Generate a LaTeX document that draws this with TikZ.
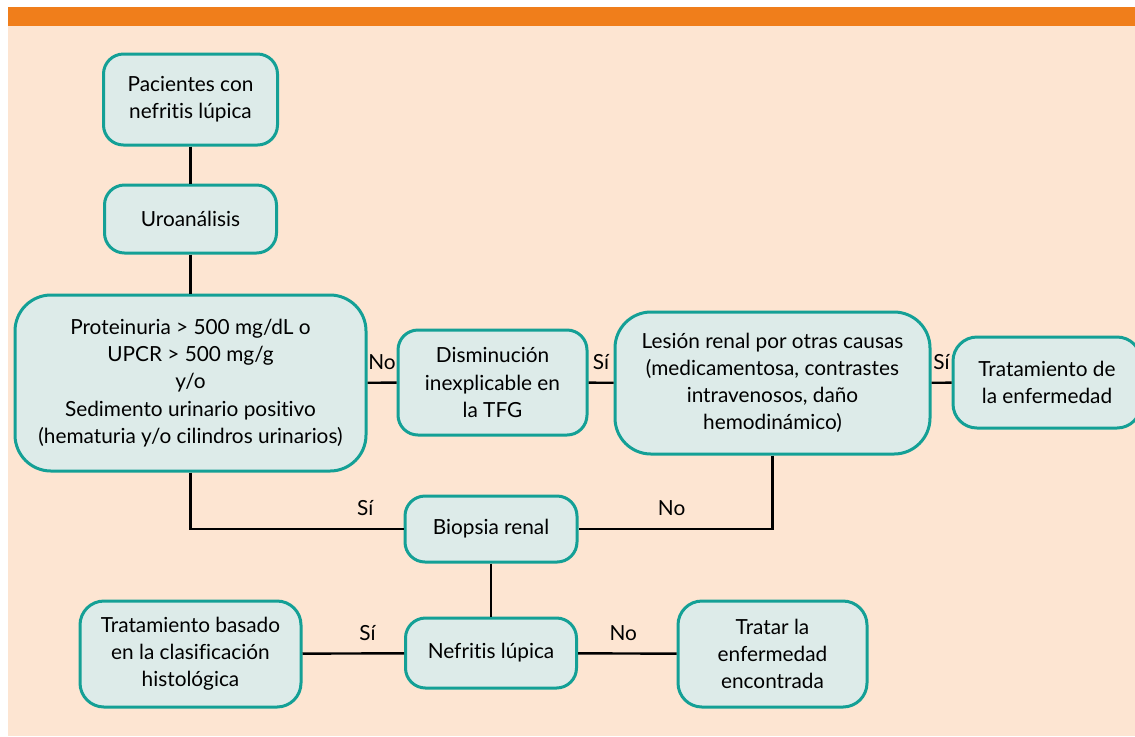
\documentclass[tikz,border=0pt]{standalone}
\usepackage{fontspec}
\setmainfont{Lato}[Ligatures=NoCommon]
\usepackage{tikz}
\definecolor{fondo}{HTML}{FDE5D2}
\definecolor{franja}{HTML}{F07E1B}
\definecolor{relleno}{HTML}{DDEBE9}
\definecolor{borde}{HTML}{14A096}
\tikzset{caja/.style={draw=borde,fill=relleno,line width=1.5pt,rounded corners=10pt,align=center,
    inner sep=0pt,font=\fontsize{10.4}{13.6}\selectfont},
  enlace/.style={line width=1.2pt,black},
  rotulo/.style={font=\fontsize{10.4}{12}\selectfont,inner sep=2pt}}

\begin{document}
\begin{tikzpicture}[x=0.5pt,y=-0.5pt]
			\useasboundingbox (0,0) rectangle (1135,736);
			\fill[fondo] (8,7) rectangle (1135,736);
			\fill[franja] (8,7) rectangle (1135,26);
			\node[caja,minimum width=87pt,minimum height=45.5pt] (pac) at (190.5,99.5) {Pacientes con\\nefritis lúpica};
			\node[caja,minimum width=86pt,minimum height=34pt] (uro) at (190.5,219) {Uroanálisis};
			\node[caja,minimum width=175.5pt,minimum height=88pt,rounded corners=18pt] (prot) at (190.5,383) {Proteinuria > 500 mg/dL o\\UPCR > 500 mg/g\\y/o\\Sedimento urinario positivo\\(hematuria y/o cilindros urinarios)};
			\node[caja,minimum width=94.5pt,minimum height=52.5pt] (dism) at (492.5,382.5) {Disminución\\inexplicable en\\la TFG};
			\node[caja,minimum width=157.5pt,minimum height=71pt,rounded corners=18pt] (les) at (772.5,383) {Lesión renal por otras causas\\(medicamentosa, contrastes\\intravenosos, daño\\hemodinámico)};
			\node[caja,minimum width=94pt,minimum height=45.5pt,rounded corners=12pt] (trat) at (1047,382.5) {Tratamiento de\\la enfermedad};
			\node[caja,minimum width=86pt,minimum height=33pt] (bio) at (491,529) {Biopsia renal};
			\node[caja,minimum width=85.5pt,minimum height=35pt] (nef) at (491,653) {Nefritis lúpica};
			\node[caja,minimum width=110.5pt,minimum height=53pt,rounded corners=12pt] (bas) at (190.5,654) {Tratamiento basado\\en la clasificación\\histológica};
			\node[caja,minimum width=94.5pt,minimum height=53pt,rounded corners=12pt] (otra) at (772.5,654) {Tratar la\\enfermedad\\encontrada};
			\draw[enlace] (pac) -- (uro);
			\draw[enlace] (uro) -- (prot);
			\draw[enlace] (prot) -- node[rotulo,above=4pt] {No} (dism);
			\draw[enlace] (dism) -- node[rotulo,above=4pt] {Sí} (les);
			\draw[enlace] (les) -- node[rotulo,above=4pt] {Sí} (trat);
			\draw[enlace] (prot) |- node[rotulo,above=4pt,pos=0.91] {Sí} (bio);
			\draw[enlace] (les) |- node[rotulo,above=4pt,pos=0.76] {No} (bio);
			\draw[enlace] (bio) -- (nef);
			\draw[enlace] (nef) -- node[rotulo,above=4pt,pos=0.36] {Sí} (bas);
			\draw[enlace] (nef) -- node[rotulo,above=4pt,pos=0.46] {No} (otra);
		\end{tikzpicture}
\end{document}
